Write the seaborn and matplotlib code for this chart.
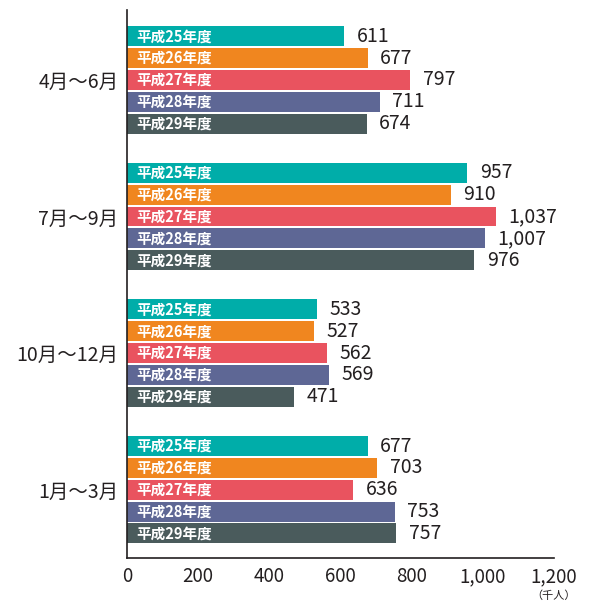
import matplotlib
matplotlib.use("Agg")
import matplotlib.pyplot as plt
import seaborn as sns
import pandas as pd

periods = ["4月～6月", "7月～9月", "10月～12月", "1月～3月"]
years = ["平成25年度", "平成26年度", "平成27年度", "平成28年度", "平成29年度"]
h25 = [611, 957, 533, 677]
h26 = [677, 910, 527, 703]
h27 = [797, 1037, 562, 636]
h28 = [711, 1007, 569, 753]
h29 = [674, 976, 471, 757]
x_ticks = [0, 200, 400, 600, 800, 1000, 1200]
colors = ["#00ADA9", "#F0861F", "#E9535F", "#5E6795", "#4A5B5C"]

series = [h25, h26, h27, h28, h29]
rows = []
for yr, vals in zip(years, series):
    for p, v in zip(periods, vals):
        rows.append({"period": p, "year": yr, "value": v})
df = pd.DataFrame(rows)

sns.set_style("white")
plt.rcParams["font.family"] = ["Noto Sans CJK JP", "DejaVu Sans"]

fig = plt.figure(figsize=(5.93, 6.03), dpi=100)
ax = fig.add_axes([0.214, 0.0746, 0.72, 0.9084])

sns.barplot(data=df, y="period", x="value", hue="year", order=periods,
            hue_order=years, palette=colors, orient="h", gap=0.09,
            width=0.8, legend=False, ax=ax, saturation=1, linewidth=0)

for cont, yr in zip(ax.containers, years):
    ax.bar_label(cont, labels=[f"{int(b.get_width()):,}" for b in cont],
                 padding=9, fontsize=14, color="#231f20")
    for b in cont:
        ax.annotate(yr, xy=(0, b.get_y() + b.get_height() / 2),
                    xytext=(7, 0), textcoords="offset points",
                    ha="left", va="center", color="white",
                    fontsize=10.5, fontweight="bold")

ax.set_xlim(0, 1200)
ax.set_ylim(3.5, -0.51)
ax.set_xticks(x_ticks)
ax.set_xticklabels([f"{t:,}" for t in x_ticks])
ax.set_xlabel("")
ax.set_ylabel("")
for s in ["top", "right"]:
    ax.spines[s].set_visible(False)
for s in ["left", "bottom"]:
    ax.spines[s].set_color("#231f20")
    ax.spines[s].set_linewidth(1.2)
ax.tick_params(axis="x", direction="in", length=6, width=1.2, color="#231f20",
               labelsize=13.5, labelcolor="#231f20", pad=6)
ax.tick_params(axis="y", length=0, labelsize=14, labelcolor="#231f20", pad=6)

ax.text(1200, -0.069, "（千人）", transform=ax.get_xaxis_transform(),
        ha="center", va="center", fontsize=8, color="#231f20")

fig.savefig("out.png", dpi=100)
